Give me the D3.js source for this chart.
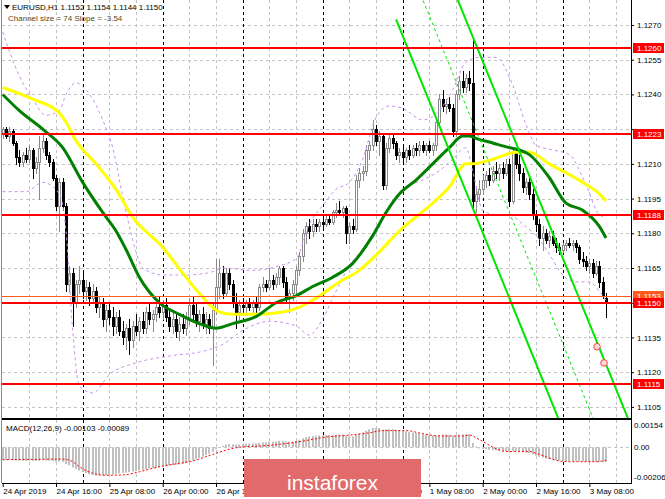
<!DOCTYPE html>
<html>
<head>
<meta charset="utf-8">
<script src="https://cdn.jsdelivr.net/npm/d3@7/dist/d3.min.js"></script>
<style>
html,body{margin:0;padding:0;background:#fff;}
svg{display:block;}
text{font-family:"Liberation Sans",Arial,sans-serif;}
</style>
</head>
<body>
<svg id="chart" width="665" height="499"></svg>
<script>
// ================= DATA =================
const symbol = "EURUSD,H1";
// hourly bars [open, high, low, close], first bar = 24 Apr 2019 00:00
const ohlc = [
[1.1223,1.1226,1.1221,1.1225],[1.1225,1.1226,1.1221,1.1222],[1.1222,1.1226,1.1220,1.1224],[1.1224,1.1225,1.1218,1.1219],
[1.1219,1.1220,1.1210,1.1213],[1.1213,1.1216,1.1209,1.1211],[1.1211,1.1215,1.1209,1.1214],[1.1214,1.1217,1.1211,1.1212],
[1.1212,1.1218,1.1211,1.1216],[1.1216,1.1217,1.1204,1.1208],[1.1208,1.1213,1.1206,1.1211],[1.1211,1.1222,1.1195,1.1217],
[1.1217,1.1223,1.1215,1.1220],[1.1220,1.1221,1.1212,1.1214],[1.1214,1.1215,1.1209,1.1211],[1.1211,1.1212,1.1203,1.1204],
[1.1204,1.1205,1.1190,1.1192],[1.1192,1.1204,1.1181,1.1202],[1.1202,1.1204,1.1190,1.1192],[1.1192,1.1193,1.1155,1.1158],
[1.1158,1.1166,1.1155,1.1163],[1.1163,1.1165,1.1140,1.1150],[1.1150,1.1160,1.1148,1.1158],[1.1158,1.1166,1.1154,1.1160],
[1.1160,1.1163,1.1152,1.1155],[1.1155,1.1160,1.1151,1.1157],[1.1157,1.1159,1.1149,1.1152],[1.1152,1.1158,1.1150,1.1155],
[1.1155,1.1157,1.1146,1.1148],[1.1148,1.1153,1.1144,1.1150],[1.1150,1.1152,1.1140,1.1143],[1.1143,1.1149,1.1138,1.1147],
[1.1147,1.1150,1.1141,1.1144],[1.1144,1.1148,1.1136,1.1140],[1.1140,1.1146,1.1137,1.1144],[1.1144,1.1147,1.1136,1.1138],
[1.1138,1.1142,1.1132,1.1135],[1.1135,1.1141,1.1130,1.1139],[1.1139,1.1143,1.1128,1.1134],[1.1134,1.1142,1.1131,1.1140],
[1.1140,1.1145,1.1136,1.1138],[1.1138,1.1144,1.1134,1.1142],[1.1142,1.1146,1.1137,1.1139],[1.1139,1.1148,1.1137,1.1146],
[1.1146,1.1150,1.1141,1.1143],[1.1143,1.1147,1.1138,1.1145],[1.1145,1.1150,1.1142,1.1148],[1.1148,1.1153,1.1144,1.1146],
[1.1146,1.1151,1.1143,1.1149],[1.1149,1.1152,1.1142,1.1144],[1.1144,1.1147,1.1138,1.1140],[1.1140,1.1146,1.1137,1.1143],
[1.1143,1.1145,1.1135,1.1138],[1.1138,1.1144,1.1134,1.1141],[1.1141,1.1145,1.1137,1.1139],[1.1139,1.1146,1.1136,1.1144],
[1.1144,1.1152,1.1141,1.1149],[1.1149,1.1153,1.1143,1.1145],[1.1145,1.1150,1.1140,1.1142],[1.1142,1.1147,1.1138,1.1145],
[1.1145,1.1148,1.1139,1.1141],[1.1141,1.1146,1.1137,1.1143],[1.1143,1.1145,1.1137,1.1139],[1.1139,1.1150,1.1123,1.1147],
[1.1147,1.1169,1.1145,1.1157],[1.1157,1.1169,1.1152,1.1163],[1.1163,1.1166,1.1152,1.1154],[1.1154,1.1165,1.1153,1.1163],
[1.1163,1.1165,1.1156,1.1158],[1.1158,1.1160,1.1148,1.1150],[1.1150,1.1154,1.1139,1.1146],[1.1146,1.1151,1.1143,1.1149],
[1.1149,1.1152,1.1146,1.1148],[1.1148,1.1151,1.1146,1.1150],[1.1150,1.1152,1.1147,1.1148],[1.1148,1.1151,1.1146,1.1150],
[1.1150,1.1153,1.1146,1.1148],[1.1148,1.1158,1.1147,1.1157],[1.1157,1.1161,1.1155,1.1158],[1.1158,1.1160,1.1155,1.1157],
[1.1157,1.1165,1.1156,1.1160],[1.1160,1.1162,1.1156,1.1158],[1.1158,1.1163,1.1157,1.1161],[1.1161,1.1166,1.1158,1.1165],
[1.1165,1.1166,1.1157,1.1159],[1.1159,1.1161,1.1150,1.1152],[1.1152,1.1156,1.1146,1.1154],[1.1154,1.1160,1.1151,1.1158],
[1.1158,1.1166,1.1154,1.1164],[1.1164,1.1172,1.1162,1.1170],[1.1170,1.1182,1.1168,1.1180],[1.1180,1.1185,1.1176,1.1183],
[1.1183,1.1186,1.1178,1.1181],[1.1181,1.1186,1.1179,1.1184],[1.1184,1.1186,1.1181,1.1183],[1.1183,1.1186,1.1181,1.1185],
[1.1185,1.1187,1.1182,1.1184],[1.1184,1.1188,1.1183,1.1186],[1.1186,1.1188,1.1184,1.1185],[1.1185,1.1190,1.1184,1.1189],
[1.1189,1.1193,1.1187,1.1190],[1.1190,1.1194,1.1188,1.1189],[1.1189,1.1192,1.1187,1.1191],[1.1191,1.1192,1.1176,1.1180],
[1.1180,1.1185,1.1176,1.1183],[1.1183,1.1186,1.1180,1.1182],[1.1182,1.1205,1.1181,1.1203],[1.1203,1.1208,1.1200,1.1206],
[1.1206,1.1209,1.1203,1.1207],[1.1207,1.1218,1.1205,1.1216],[1.1216,1.1220,1.1212,1.1218],[1.1218,1.1229,1.1216,1.1225],
[1.1225,1.1227,1.1218,1.1220],[1.1220,1.1224,1.1214,1.1222],[1.1222,1.1223,1.1199,1.1201],[1.1201,1.1219,1.1199,1.1217],
[1.1217,1.1223,1.1215,1.1221],[1.1221,1.1223,1.1217,1.1219],[1.1219,1.1220,1.1212,1.1214],[1.1214,1.1217,1.1211,1.1215],
[1.1215,1.1218,1.1211,1.1213],[1.1213,1.1217,1.1211,1.1216],[1.1216,1.1218,1.1212,1.1214],[1.1214,1.1218,1.1213,1.1217],
[1.1217,1.1219,1.1214,1.1216],[1.1216,1.1220,1.1214,1.1218],[1.1218,1.1220,1.1215,1.1216],[1.1216,1.1219,1.1214,1.1218],
[1.1218,1.1220,1.1215,1.1216],[1.1216,1.1219,1.1214,1.1218],[1.1218,1.1230,1.1216,1.1228],[1.1228,1.1240,1.1226,1.1238],
[1.1238,1.1242,1.1233,1.1235],[1.1235,1.1238,1.1232,1.1236],[1.1236,1.1239,1.1233,1.1234],[1.1234,1.1236,1.1222,1.1224],
[1.1224,1.1242,1.1222,1.1240],[1.1240,1.1248,1.1238,1.1246],[1.1246,1.1250,1.1241,1.1243],[1.1243,1.1249,1.1241,1.1247],
[1.1247,1.1250,1.1242,1.1245],[1.1245,1.1265,1.1190,1.1194],[1.1194,1.1200,1.1189,1.1197],[1.1197,1.1203,1.1194,1.1199],
[1.1199,1.1205,1.1197,1.1203],[1.1203,1.1207,1.1200,1.1205],[1.1205,1.1208,1.1201,1.1203],[1.1203,1.1209,1.1202,1.1207],
[1.1207,1.1211,1.1204,1.1206],[1.1206,1.1210,1.1203,1.1208],[1.1208,1.1211,1.1204,1.1206],[1.1206,1.1212,1.1205,1.1210],
[1.1210,1.1212,1.1192,1.1194],[1.1194,1.1217,1.1193,1.1215],[1.1215,1.1217,1.1208,1.1210],[1.1210,1.1214,1.1203,1.1206],
[1.1206,1.1208,1.1198,1.1200],[1.1200,1.1204,1.1197,1.1202],[1.1202,1.1204,1.1195,1.1197],[1.1197,1.1199,1.1186,1.1188],
[1.1188,1.1190,1.1181,1.1184],[1.1184,1.1186,1.1175,1.1178],[1.1178,1.1183,1.1173,1.1180],[1.1180,1.1182,1.1176,1.1177],
[1.1177,1.1181,1.1174,1.1179],[1.1179,1.1181,1.1175,1.1176],[1.1176,1.1178,1.1172,1.1174],[1.1174,1.1176,1.1171,1.1173],
[1.1173,1.1176,1.1172,1.1175],[1.1175,1.1177,1.1173,1.1176],[1.1176,1.1178,1.1174,1.1175],[1.1175,1.1177,1.1173,1.1176],
[1.1176,1.1177,1.1172,1.1174],[1.1174,1.1175,1.1167,1.1169],[1.1169,1.1172,1.1166,1.1168],[1.1168,1.1170,1.1164,1.1166],
[1.1166,1.1169,1.1163,1.1167],[1.1167,1.1169,1.1161,1.1163],[1.1163,1.1168,1.1162,1.1166],[1.1166,1.1168,1.1157,1.1159],
[1.1159,1.1161,1.1152,1.1153],[1.1152,1.1154,1.1144,1.1150]
];
const xTickLabels = ["24 Apr 2019","24 Apr 16:00","25 Apr 08:00","26 Apr 00:00","26 Apr 16:00","29 Apr 08:00",
  "30 Apr 00:00","30 Apr 16:00","1 May 08:00","2 May 00:00","2 May 16:00","3 May 08:00"];
const barsPerLabel = 16, barsPerGrid = 8, barsPerDay = 24;
const priceTicks = [1.1270,1.1255,1.1240,1.1225,1.1210,1.1195,1.1180,1.1165,1.1150,1.1135,1.1120,1.1105];
const levelLines = [1.1260,1.1223,1.1188,1.1115];
const bidPrice = 1.1150;
const askPrice = 1.1153;
// moving averages [bar, price]
const greenMA = [[0,1.1240],[5,1.1233],[12,1.1225],[18,1.1217],[24,1.1202],[30,1.1189],[34,1.1181],[37,1.1173],[41,1.1161],
  [47,1.1150],[53,1.1145],[59,1.1141],[64,1.1139],[69,1.1141],[76,1.1144],[82,1.1150],[88,1.1153],[93,1.1157],[99,1.1161],
  [105,1.1167],[111,1.1179],[115,1.1189],[119,1.1197],[124,1.1203],[129,1.1210],[134,1.1217],[138,1.1222],[140,1.1222],
  [142,1.1221],[147,1.1219],[152,1.1217],[155,1.1216],[158,1.1214],[164,1.1204],[169,1.1193],[174,1.1190],[179,1.1183],[181,1.1178]];
const yellowMA = [[0,1.1243],[9,1.1238],[17,1.1232],[19,1.1228],[22,1.1220],[28,1.1210],[34,1.1199],[39,1.1187],[48,1.1174],
  [55,1.1161],[59,1.1154],[65,1.1146],[69,1.1145],[76,1.1145],[84,1.1146],[89,1.1148],[94,1.1152],[101,1.1159],[107,1.1164],
  [113,1.1172],[119,1.1181],[129,1.1193],[134,1.1200],[139,1.1210],[141,1.1210],[147,1.1212],[154,1.1215],[158,1.1215],
  [164,1.1210],[174,1.1202],[179,1.1197],[181,1.1194]];
// envelope bands [bar, price]
const bandUpper = [[0,1.1267],[5,1.1248],[9,1.1238],[13,1.1231],[17,1.1233],[19,1.1240],[22,1.1245],[25,1.1242],[30,1.1229],
  [33,1.1217],[36,1.1196],[38,1.1183],[40,1.1172],[42,1.1165],[48,1.1162],[55,1.1162],[62,1.1163],[66,1.1165],[75,1.1164],
  [83,1.1166],[88,1.1169],[92,1.1184],[96,1.1192],[100,1.1199],[104,1.1202],[108,1.1212],[112,1.1230],[116,1.1235],
  [120,1.1234],[126,1.1229],[131,1.1233],[135,1.1242],[139,1.1254],[143,1.1256],[148,1.1256],[153,1.1244],[157,1.1227],
  [160,1.1218],[165,1.1216],[170,1.1214],[175,1.1201],[179,1.1188],[181,1.1187]];
const bandLower = [[0,1.1198],[7,1.1198],[12,1.1202],[17,1.1197],[19,1.1181],[21,1.1138],[23,1.1114],[27,1.1111],[32,1.1119],
  [40,1.1124],[50,1.1127],[60,1.1129],[66,1.1132],[72,1.1138],[80,1.1142],[88,1.1140],[92,1.1136],[96,1.1143],[100,1.1155],
  [104,1.1166],[108,1.1173],[112,1.1180],[116,1.1192],[120,1.1199],[126,1.1203],[131,1.1207],[135,1.1212],[139,1.1217],
  [141,1.1207],[144,1.1190],[148,1.1188],[152,1.1188],[156,1.1184],[160,1.1179],[164,1.1171],[168,1.1162],[172,1.1159],
  [176,1.1159],[179,1.1155],[181,1.1151]];
// MACD main (histogram), units of 0.00001, one per bar
const macdHist = [
 -90,-90,-89,-90,-92,-93,-93,-94,-93,-95,-95,-93,-90,-91,-93,-96,-100,-99,-101,
 -115,-125,-140,-150,-162,-172,-180,-187,-192,-195,-196,-196,-194,-191,-188,-184,-181,-178,-176,-172,-168,-164,-160,-156,-152,-148,-145,-141,-138,-135,
 -131,-128,-125,-122,-119,-115,-110,-100,-92,-84,-75,-65,-55,-45,-32,
 -15,2,10,18,22,20,18,20,22,24,25,26,26,30,33,35,38,39,41,44,44,40,38,40,45,52,62,70,74,78,80,82,83,84,
 85,86,87,87,87,80,77,74,85,95,102,115,124,133,135,133,122,124,126,125,121,118,113,110,105,102,98,95,90,88,84,82,80,85,87,88,86,78,82,88,89,90,90,
 30,5,-8,-12,-15,-18,-20,-22,-24,-26,-26,-32,-28,-28,-30,-34,-36,-40,-50,-58,-66,-72,-78,-82,-86,-90,-93,-95,-96,-96,-96,-96,-98,-99,-100,-100,-101,-101,-103,-104,-103
];
// MACD signal [bar, value in 0.00001]
const macdSignal = [[0,-86],[10,-84],[18,-82],[21,-100],[23,-135],[27,-180],[31,-194],[36,-192],[41,-170],[45,-146],[48,-130],
  [52,-115],[57,-95],[63,-50],[67,-20],[71,0],[79,11],[88,35],[98,73],[104,84],[110,100],[114,115],[121,115],[126,94],
  [131,78],[138,78],[140,84],[143,53],[148,-10],[151,-30],[158,-30],[161,-50],[167,-95],[170,-100],[178,-100],[181,-89]];
const macdUnit = 0.00001;
const macdTicks = [0.00154, 0, -0.00206];
const macdName = "MACD(12,26,9)";
const macdLast = [-0.00103, -0.00089];
// regression channel
const channel = {startBar:118, startMid:1.13094, slopePerBar:-0.000354, halfWidth:0.0037, endBar:200};
const channelInfo = {size:74, slope:-3.54};
const markers = [[178.3,1.1131],[180.4,1.1124]];
const watermark = "instaforex";

// ================= LAYOUT =================
const X0 = 2, X1 = 631, MT = 0, MB = 418, ST = 420, SB = 483;
const WM = {x:244, y:459, w:177, h:38};
const svg = d3.select('#chart');
const x = d3.scaleLinear().domain([-0.81, 188.5]).range([0, 631]);
const y = d3.scaleLinear().domain([1.11002, 1.12808]).range([MB, MT]);
const ym = d3.scaleLinear().domain([-0.00206, 0.00154]).range([477, 425]);
const cx = i => Math.round(x(i));
const FONT = '"Liberation Sans",Arial,sans-serif';

const defs = svg.append('defs');
defs.append('clipPath').attr('id','cm').append('rect').attr('x',X0).attr('y',MT).attr('width',X1-X0).attr('height',MB-MT);
defs.append('clipPath').attr('id','cs').append('rect').attr('x',X0).attr('y',ST).attr('width',X1-X0).attr('height',SB-ST);

svg.append('rect').attr('width',665).attr('height',499).attr('fill','#fff');

// ---- grid ----
const grid = svg.append('g');
grid.selectAll('line.hg').data(priceTicks).join('line').attr('class','hg')
  .attr('x1',X0).attr('x2',X1).attr('y1',d=>Math.round(y(d))+0.5).attr('y2',d=>Math.round(y(d))+0.5)
  .attr('stroke','#c4c4c4').attr('stroke-dasharray','3,3');
const vBars = d3.range(barsPerGrid, 189, barsPerGrid);
[[MT,MB],[ST,SB]].forEach(([a,b]) => {
  grid.append('g').selectAll('line').data(vBars).join('line')
    .attr('x1',d=>cx(d)+0.5).attr('x2',d=>cx(d)+0.5).attr('y1',a).attr('y2',b)
    .attr('stroke',d=> d%barsPerDay===0 ? '#000' : '#c4c4c4').attr('stroke-dasharray','3,3');
});
grid.append('line').attr('x1',X0).attr('x2',X1).attr('y1',Math.round(ym(0))+0.5).attr('y2',Math.round(ym(0))+0.5)
  .attr('stroke','#c4c4c4').attr('stroke-dasharray','3,3');

// ---- main panel ----
const main = svg.append('g').attr('clip-path','url(#cm)');
const candles = main.append('g');
const cg = candles.selectAll('g').data(ohlc).join('g');
cg.append('line')
  .attr('x1',(d,i)=>cx(i)+0.5).attr('x2',(d,i)=>cx(i)+0.5)
  .attr('y1',d=>Math.round(y(d[1]))).attr('y2',d=>Math.round(y(d[2]))+1)
  .attr('stroke',d=> d[3]>=d[0] ? '#8a8a8a' : '#000');
cg.append('rect')
  .attr('x',(d,i)=>cx(i)-0.5).attr('width',2)
  .attr('y',d=>Math.round(y(Math.max(d[0],d[3])))+0.5)
  .attr('height',d=>Math.max(1, Math.round(y(Math.min(d[0],d[3]))) - Math.round(y(Math.max(d[0],d[3])))))
  .attr('fill',d=> d[3]>=d[0] ? '#fff' : '#000')
  .attr('stroke',d=> d[3]>=d[0] ? '#8a8a8a' : '#000').attr('stroke-width',1);

const lineP = d3.line().x(d=>x(d[0])).y(d=>y(d[1])).curve(d3.curveMonotoneX);
[bandUpper, bandLower].forEach(b => main.append('path').attr('d',lineP(b)).attr('fill','none')
  .attr('stroke','#c890ee').attr('stroke-width',1).attr('stroke-dasharray','3,3'));
main.append('path').attr('d',lineP(yellowMA)).attr('fill','none').attr('stroke','#ffff00').attr('stroke-width',3);
main.append('path').attr('d',lineP(greenMA)).attr('fill','none').attr('stroke','#008000').attr('stroke-width',3);

// channel
const chPrice = (b,k) => channel.startMid + channel.slopePerBar*(b-channel.startBar) + k*channel.halfWidth;
[-1,0,1].forEach(k => {
  main.append('line')
    .attr('x1',x(channel.startBar)).attr('y1',y(chPrice(channel.startBar,k)))
    .attr('x2',x(channel.endBar)).attr('y2',y(chPrice(channel.endBar,k)))
    .attr('stroke','#00e600').attr('stroke-width',k===0?1:2).attr('stroke-dasharray',k===0?'3,3':null);
});

// horizontal levels
main.selectAll('line.lvl').data(levelLines).join('line').attr('class','lvl')
  .attr('x1',X0).attr('x2',X1).attr('y1',d=>Math.round(y(d))).attr('y2',d=>Math.round(y(d)))
  .attr('stroke','#ff0000').attr('stroke-width',2);
main.append('line').attr('x1',X0).attr('x2',X1).attr('y1',Math.round(y(askPrice))+0.5).attr('y2',Math.round(y(askPrice))+0.5)
  .attr('stroke','#ff5a1e').attr('stroke-width',1);
main.append('line').attr('x1',X0).attr('x2',X1).attr('y1',Math.round(y(bidPrice))).attr('y2',Math.round(y(bidPrice)))
  .attr('stroke','#ff0000').attr('stroke-width',2);

main.selectAll('circle.mk').data(markers).join('circle').attr('class','mk')
  .attr('cx',d=>x(d[0])).attr('cy',d=>y(d[1])).attr('r',3.3)
  .attr('fill','#ffd6d6').attr('stroke','#f04848').attr('stroke-width',1);

// ---- MACD panel ----
const sub = svg.append('g').attr('clip-path','url(#cs)');
sub.selectAll('rect').data(macdHist).join('rect')
  .attr('x',(d,i)=>cx(i)-1).attr('width',2)
  .attr('y',d=> d>=0 ? ym(d*macdUnit) : ym(0))
  .attr('height',d=>Math.abs(ym(d*macdUnit)-ym(0)))
  .attr('fill','#c0c0c0');
const lineM = d3.line().x(d=>x(d[0])).y(d=>ym(d[1]*macdUnit)).curve(d3.curveMonotoneX);
sub.append('path').attr('d',lineM(macdSignal)).attr('fill','none').attr('stroke','#ff0000')
  .attr('stroke-width',1).attr('stroke-dasharray','2,2');

// ---- frame ----
const frame = svg.append('g').attr('stroke','#000');
frame.append('line').attr('x1',X1+0.5).attr('x2',X1+0.5).attr('y1',0).attr('y2',SB+1);
frame.append('line').attr('x1',X0).attr('x2',X1).attr('y1',419).attr('y2',419).attr('stroke-width',2);
frame.append('line').attr('x1',X0).attr('x2',X1+1).attr('y1',SB+0.5).attr('y2',SB+0.5);
frame.append('line').attr('x1',1.5).attr('x2',1.5).attr('y1',0).attr('y2',SB).attr('stroke','#8c8c8c');

// ---- axes ----
// level boxes on the price scale (they hide the tick labels that lie under them)
const boxes = [{p:askPrice, c:'#ff5a1e'}, ...levelLines.map(p=>({p, c:'#ff0000'})), {p:bidPrice, c:'#ff0000'}];
const hidden = d => boxes.some(b => Math.abs(y(b.p) - y(d)) < 9);
const yAxis = d3.axisRight(y).tickValues(priceTicks).tickFormat(d3.format('.4f')).tickSize(3).tickPadding(3).tickSizeOuter(0);
const ya = svg.append('g').attr('transform',`translate(${X1},0)`).call(yAxis);
ya.select('.domain').remove();
ya.attr('font-family',FONT).attr('font-size',8);
ya.selectAll('.tick').filter(d=>hidden(d)).select('text').remove();

const mAxis = d3.axisRight(ym).tickValues(macdTicks).tickFormat(d=> d===0 ? '0.00' : d.toFixed(5)).tickSize(0).tickPadding(3);
const ma = svg.append('g').attr('transform',`translate(${X1},0)`).call(mAxis);
ma.select('.domain').remove();
ma.attr('font-family',FONT).attr('font-size',8);

const bx = svg.append('g');
boxes.forEach(b => {
  const yy = Math.round(y(b.p));
  bx.append('rect').attr('x',X1+2).attr('y',yy-5).attr('width',31).attr('height',10).attr('fill',b.c);
  bx.append('text').attr('x',X1+6).attr('y',yy).attr('dy','0.35em').attr('font-size',8)
    .attr('fill','#fff').text(b.p.toFixed(4));
});

// time axis (labels lying completely under the watermark are not visible in the original)
const xAxis = d3.axisBottom(x).tickValues(xTickLabels.map((d,i)=>i*barsPerLabel))
  .tickFormat((d,i)=>xTickLabels[i]).tickSize(4).tickPadding(1).tickSizeOuter(0);
const xa = svg.append('g').attr('transform',`translate(0,${SB})`).call(xAxis);
xa.select('.domain').remove();
xa.attr('font-family',FONT).attr('font-size',8);
xa.selectAll('text').attr('text-anchor','start').attr('x',0);
xa.selectAll('.tick').filter(d => x(d) > WM.x && x(d) + 48 < WM.x + WM.w).select('text').remove();

// ---- header texts ----
const last = ohlc[ohlc.length-1];
svg.append('path').attr('d','M4,5 L10,5 L7,9 Z').attr('fill','#000');
svg.append('text').attr('x',12).attr('y',9.5).attr('font-size',8).attr('fill','#000')
  .text(`${symbol}  ${last.map(v=>v.toFixed(4)).join(' ')}`);
svg.append('text').attr('x',8).attr('y',20.5).attr('font-size',8).attr('fill','#5a4622')
  .text(`Channel size = ${channelInfo.size} Slope = ${channelInfo.slope}`);
svg.append('text').attr('x',6).attr('y',431).attr('font-size',8).attr('fill','#000')
  .text(`${macdName} ${macdLast[0].toFixed(5)} ${macdLast[1].toFixed(5)}`);

// ---- watermark ----
svg.append('rect').attr('x',WM.x).attr('y',WM.y).attr('width',WM.w).attr('height',WM.h).attr('fill','#e36a6b');
svg.append('text').attr('x',WM.x+WM.w/2).attr('y',490).attr('text-anchor','middle')
  .attr('font-family','Roboto,"Open Sans",sans-serif').attr('font-weight',300).attr('font-size',21)
  .attr('fill','#fff').text(watermark);
</script>
</body>
</html>
